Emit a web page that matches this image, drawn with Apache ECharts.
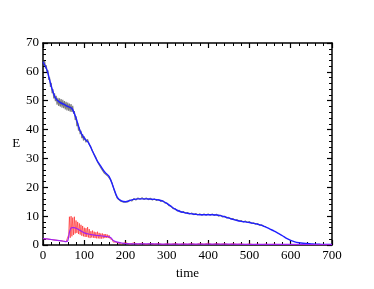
<!DOCTYPE html>
<html><head><meta charset="utf-8">
<script src="https://cdn.jsdelivr.net/npm/echarts@6/dist/echarts.min.js"></script>
<style>html,body{margin:0;padding:0;background:#fff}#c{width:374px;height:289px}</style>
</head><body><div id="c"></div>
<script>
// x-axis ticks / y-axis ticks
const xTicks = [0,100,200,300,400,500,600,700];
const yTicks = [0,10,20,30,40,50,60,70];

// Black noisy E(t)
const blackT = [0,2,4,6,8,10,12,14,16,18,20,22,24,26,28,30,32,34,36,38,40,42,44,46,48,50,52,54,56,58,60,62,64,66,68,70,72,74,76,78,80,82,84,86,88,90,92,94,96,98,100,
104,108,112,116,120,124,128,132,136,140,144,148,152,156,160,164,168,172,176,180,184,188,192,196,200,
205,210,215,220,225,230,235,240,245,250,255,260,265,270,275,280,285,290,295,300,305,310,315,320,325,330,335,340,345,350,355,360,365,370,375,380,385,390,395,400,405,410,415,420,425,430,435,440,445,450,455,460,465,470,475,480,485,490,495,500,505,510,515,520,525,530,535,540];
const blackE = [64.5,62.5,63.8,61.2,62.3,59.8,60.5,57.2,58.0,54.8,56.2,52.6,54.0,50.8,52.6,49.8,51.7,48.6,51.0,48.2,50.8,47.9,50.6,47.6,50.3,47.4,49.9,47.0,49.6,46.6,49.4,46.5,49.0,46.2,48.8,46.1,48.2,45.5,46.4,43.3,44.6,41.2,42.3,39.6,40.8,38.4,39.6,37.0,38.4,36.2,37.6,
35.6,36.6,34.8,34.0,32.5,31.4,30.4,28.8,28.6,26.8,26.6,25.0,25.4,24.0,24.2,22.6,21.2,19.2,17.6,16.2,16.0,15.2,15.5,14.8,15.3,
14.9,15.6,15.2,16.1,15.6,16.3,15.8,16.4,15.7,16.3,15.7,16.2,15.6,16.0,15.4,15.8,15.1,15.4,14.6,14.5,13.6,13.5,12.6,12.6,11.8,12.0,11.3,11.6,11.0,11.3,10.7,11.1,10.5,10.9,10.4,10.8,10.3,10.8,10.3,10.8,10.3,10.8,10.2,10.7,10.0,10.3,9.7,10.0,9.3,9.6,9.0,9.2,8.6,8.8,8.3,8.5,8.0,8.3,7.8,8.1,7.5,7.7,7.2,7.4,6.8,7.0,6.4,6.4];

// Blue mean E(t)
const blueT = [0,10,20,30,40,50,60,70,80,90,100,110,120,130,140,150,160,170,180,190,200,210,220,230,240,250,260,270,280,290,300,310,320,330,340,350,360,370,380,390,400,410,420,430,440,450,460,470,480,490,500,510,520,530,540,550,560,570,580,590,600,610,620,630,640,650,660,670,680,690,700];
const blueE = [63.5,60.5,55,51,49.5,48.8,48,47.3,44,39.5,37,35.5,32.5,29.5,27.3,25.2,23.8,20.2,16.5,15.3,15,15.4,15.8,16,16,16,15.9,15.8,15.6,15.2,14.4,13.4,12.4,11.7,11.3,11,10.8,10.6,10.5,10.5,10.5,10.5,10.4,10.2,9.8,9.3,8.9,8.5,8.2,8,7.8,7.5,7.2,6.8,6.2,5.5,4.8,4,3.2,2.3,1.6,1.1,0.8,0.6,0.5,0.4,0.3,0.25,0.2,0.2,0.15];

// Red noisy
const redT = [0,10,20,30,40,50,56,60,62,64,66,68,70,72,74,76,78,80,82,84,86,88,90,92,94,96,98,100,102,104,106,108,110,112,114,116,118,120,122,124,126,128,130,132,134,136,138,140,142,144,146,148,150,152,154,156,158,160,162,164,166,168,170,172,174,176,178,180,
190,200,210,220,230,240,250,260,270,280,290,300,310,320,330,340,350,360,370,380,390,400,410,420,430,440,450,460,470,480,490,500,510,520,530,540,550,560,570,580,590,600,610,620,630,640,650,660,670,680,690,700];
const redE = [2.2,2.1,1.9,1.7,1.5,1.3,1.2,1.4,3.5,9.8,2.5,10.0,3.0,9.5,3.5,9.8,4.0,8.5,4.2,8.0,3.8,7.5,3.6,7.0,3.2,6.6,3.0,6.0,2.8,5.8,2.8,6.2,2.6,5.5,2.4,4.8,2.6,5.0,2.5,4.6,2.4,4.4,2.3,4.6,2.3,4.2,2.2,4.0,2.2,4.0,2.3,3.8,2.4,3.8,2.5,3.6,2.4,3.4,2.2,2.8,1.6,1.8,1.0,1.4,0.6,1.0,0.4,0.8,
0.3,0.9,0.2,0.8,0.2,0.7,0.1,0.6,0.2,0.6,0.1,0.5,0.2,0.6,0.1,0.5,0.2,0.6,0.1,0.6,0.2,0.7,0.1,0.6,0.2,0.5,0.1,0.5,0.2,0.4,0.1,0.4,0.1,0.3,0.1,0.3,0.1,0.3,0.1,0.2,0.1,0.2,0.1,0.2,0.1,0.2,0.1,0.2,0.1,0.2,0.1,0.2];

// Purple mean
const purpleT = [0,10,20,30,40,50,55,60,65,70,75,80,90,100,110,120,130,140,150,160,165,170,180,190,200,250,300,400,500,600,700];
const purpleE = [2.2,2.1,1.9,1.7,1.5,1.3,1.2,1.5,5.0,6.0,6.0,5.8,5.0,4.2,3.8,3.5,3.3,3.2,3.0,2.8,2.4,1.6,1.0,0.7,0.5,0.4,0.3,0.3,0.25,0.2,0.15];

const zip = (a,b) => a.map((t,i)=>[t,b[i]]);
const font = 'Liberation Serif';
const axCol = '#000';
function xAx(pos, showLabel){
  return {type:'value', position:pos, min:xTicks[0], max:xTicks[xTicks.length-1], interval:100,
    name: showLabel ? 'time' : '', nameLocation:'middle', nameGap:14,
    nameTextStyle:{fontFamily:font,fontSize:13,color:'#000'},
    axisLine:{show:true,onZero:false,lineStyle:{color:axCol,width:1.5}},
    axisTick:{show:true,inside:true,length:5,lineStyle:{color:axCol,width:1.2}},
    minorTick:{show:true,splitNumber:5,length:3,lineStyle:{color:axCol,width:1}},
    axisLabel:{show:showLabel,fontFamily:font,fontSize:13,color:'#000',margin:4},
    splitLine:{show:false}};
}
function yAx(pos, showLabel){
  return {type:'value', position:pos, min:yTicks[0], max:yTicks[yTicks.length-1], interval:10,
    name: showLabel ? 'E' : '', nameLocation:'middle', nameGap:20, nameRotate:0,
    nameTextStyle:{fontFamily:font,fontSize:13,color:'#000'},
    axisLine:{show:true,onZero:false,lineStyle:{color:axCol,width:1.5}},
    axisTick:{show:true,inside:true,length:5,lineStyle:{color:axCol,width:1.2}},
    minorTick:{show:true,splitNumber:5,length:3,lineStyle:{color:axCol,width:1}},
    axisLabel:{show:showLabel,fontFamily:font,fontSize:13,color:'#000',margin:4},
    splitLine:{show:false}};
}
const chart = echarts.init(document.getElementById('c'), null, {renderer:'canvas'});
chart.setOption({
  animation:false,
  backgroundColor:'#fff',
  grid:{left:43,right:42,top:43,bottom:44},
  xAxis:[xAx('bottom',true), xAx('top',false)],
  yAxis:[yAx('left',true), yAx('right',false)],
  series:[
    {type:'line',data:zip(blackT,blackE),showSymbol:false,lineStyle:{color:'#444',width:1.1,opacity:0.7},z:1},
    {type:'line',data:zip(redT,redE),showSymbol:false,lineStyle:{color:'#ff2020',width:0.9,opacity:0.7},z:2},
    {type:'line',data:zip(blueT,blueE),showSymbol:false,smooth:0.3,lineStyle:{color:'#2020ff',width:1.4},z:3},
    {type:'line',data:zip(purpleT,purpleE),showSymbol:false,smooth:0.3,lineStyle:{color:'#a020f0',width:1.2},z:4}
  ]
});
</script></body></html>
